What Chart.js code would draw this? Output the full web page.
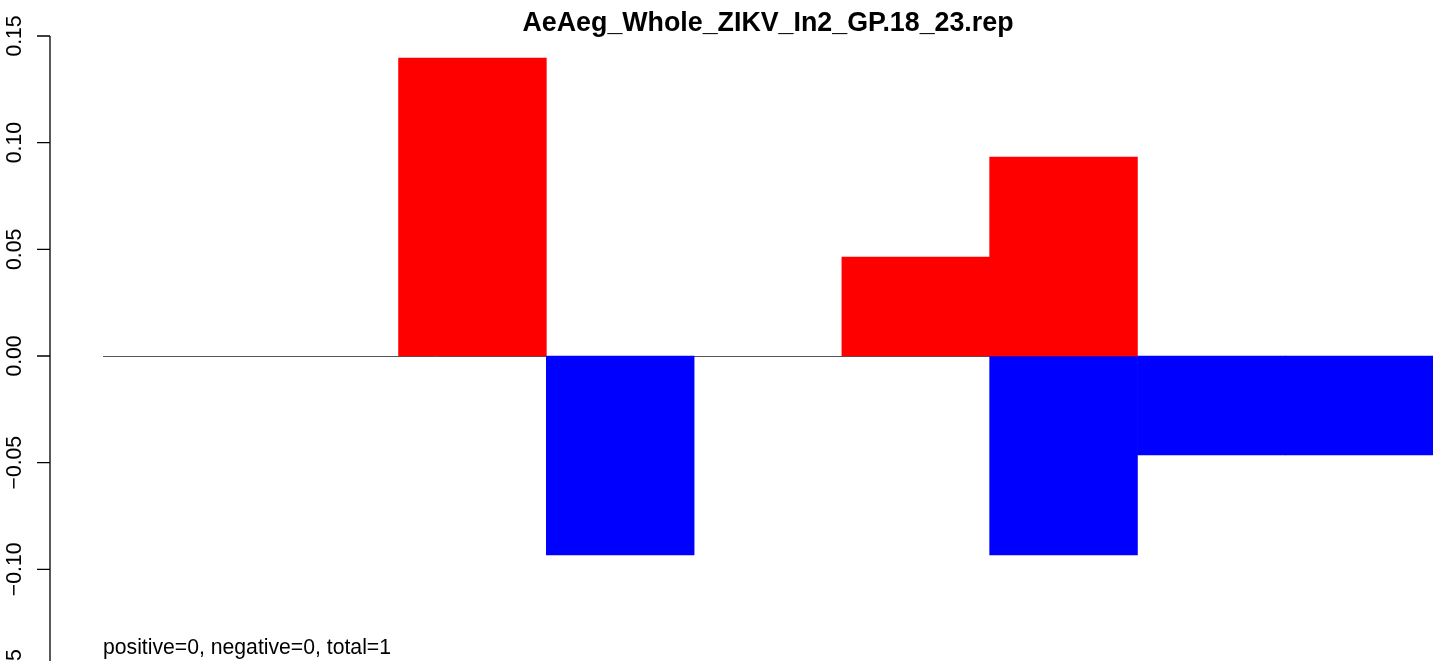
<!DOCTYPE html>
<html>
<head>
<meta charset="utf-8">
<script src="https://cdn.jsdelivr.net/npm/chart.js@4/dist/chart.umd.min.js"></script>
<style>
    html, body { margin: 0; padding: 0; background: #fff; }
    #wrap { width: 1449px; height: 661px; position: relative; }
</style>
</head>
<body>
<div id="wrap"><canvas id="chart"></canvas></div>
<script>
const categories = ['1', '2', '3', '4', '5', '6', '7', '8', '9'];
const positiveValues = [0, 0, 0.1397, 0, 0, 0.0464, 0.0933, 0, 0];
const negativeValues = [0, 0, 0, -0.0933, 0, 0, -0.0933, -0.0464, -0.0464];
const yTicks = [0.15, 0.10, 0.05, 0.00, -0.05, -0.10, -0.15];
const chartTitle = 'AeAeg_Whole_ZIKV_In2_GP.18_23.rep';
const footNote = 'positive=0, negative=0, total=1';

const FONT = '"Liberation Sans", Arial, Helvetica, sans-serif';

// zero-height bars stay invisible so the grey baseline shows through
function fillFor(color) {
    return ctx => (ctx.raw === 0 ? 'rgba(0,0,0,0)' : color);
}

// R-style decorations: detached y axis, zero line, title, footnote
const rDecor = {
    id: 'rDecor',
    beforeDatasetsDraw(chart) {
        const ctx = chart.ctx;
        const y = chart.scales.y;
        const area = chart.chartArea;
        const y0 = Math.round(y.getPixelForValue(0)) + 0.5;
        ctx.save();
        ctx.strokeStyle = '#555555';
        ctx.lineWidth = 1;
        ctx.beginPath();
        ctx.moveTo(area.left, y0);
        ctx.lineTo(area.right, y0);
        ctx.stroke();
        ctx.restore();
    },
    afterDraw(chart) {
        const ctx = chart.ctx;
        const y = chart.scales.y;
        const area = chart.chartArea;
        const axisX = 50;
        ctx.save();
        ctx.strokeStyle = '#000';
        ctx.lineWidth = 1.3;
        const top = y.getPixelForValue(yTicks[0]);
        const bottom = y.getPixelForValue(yTicks[yTicks.length - 1]);
        ctx.beginPath();
        ctx.moveTo(axisX, top);
        ctx.lineTo(axisX, bottom);
        yTicks.forEach(v => {
            const py = y.getPixelForValue(v);
            ctx.moveTo(37, py);
            ctx.lineTo(axisX, py);
        });
        ctx.stroke();

        ctx.fillStyle = '#000';
        ctx.font = '21.2px ' + FONT;
        ctx.textAlign = 'center';
        ctx.textBaseline = 'alphabetic';
        yTicks.forEach(v => {
            const py = y.getPixelForValue(v);
            ctx.save();
            ctx.translate(21, py);
            ctx.rotate(-Math.PI / 2);
            ctx.fillText(v.toFixed(2).replace('-', '\u2212'), 0, 0);
            ctx.restore();
        });

        ctx.font = 'bold 26.8px ' + FONT;
        ctx.textAlign = 'center';
        ctx.fillText(chartTitle, (area.left + area.right) / 2, 31);

        ctx.font = '21.2px ' + FONT;
        ctx.textAlign = 'left';
        ctx.fillText(footNote, 103, 654);
        ctx.restore();
    }
};

new Chart(document.getElementById('chart'), {
    type: 'bar',
    data: {
        labels: categories,
        datasets: [
            {
                label: 'positive',
                data: positiveValues,
                backgroundColor: fillFor('#ff0000'),
                borderWidth: 0,
                categoryPercentage: 1,
                barPercentage: 1
            },
            {
                label: 'negative',
                data: negativeValues,
                backgroundColor: fillFor('#0000ff'),
                borderWidth: 0,
                categoryPercentage: 1,
                barPercentage: 1
            }
        ]
    },
    options: {
        responsive: true,
        maintainAspectRatio: false,
        animation: false,
        layout: { padding: { left: 103, right: 16, top: 36, bottom: 0 } },
        plugins: {
            legend: { display: false },
            title: { display: false },
            tooltip: { enabled: false }
        },
        scales: {
            x: { stacked: true, display: false },
            y: { stacked: true, display: false, min: -0.14297, max: 0.15 }
        }
    },
    plugins: [rDecor]
});
</script>
</body>
</html>
